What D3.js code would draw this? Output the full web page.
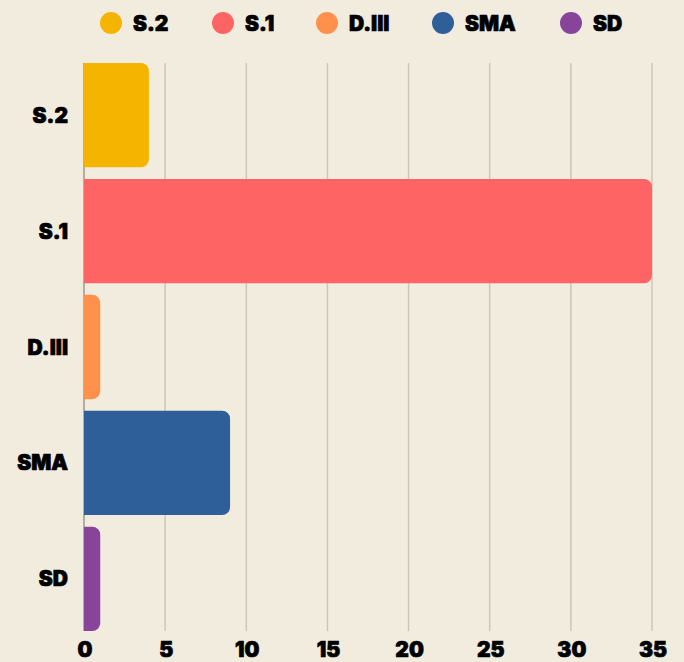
<!DOCTYPE html>
<html>
<head>
<meta charset="utf-8">
<script src="https://cdn.jsdelivr.net/npm/d3@7"></script>
<style>
  html, body { margin: 0; padding: 0; background: #f2ecdf; }
  svg text { font-family: Inter, Lato, "Noto Sans", sans-serif; font-weight: 900; fill: #000;
             stroke: #000; stroke-width: 0.7px; }
</style>
</head>
<body>
<svg id="chart"></svg>
<script>
// Data
const categories = ["S.2", "S.1", "D.III", "SMA", "SD"];
const values = [4, 35, 1, 9, 1];
const colors = ["#f5b400", "#ff6464", "#ff914d", "#2e5f99", "#88449b"];
const xTicks = [0, 5, 10, 15, 20, 25, 30, 35];

const W = 684, H = 662;
const margin = { top: 63, right: 32, bottom: 31, left: 84 };
const width = W - margin.left - margin.right;
const height = H - margin.top - margin.bottom;

const svg = d3.select("#chart")
    .attr("width", W)
    .attr("height", H);

const g = svg.append("g")
    .attr("transform", "translate(" + margin.left + "," + margin.top + ")");

const x = d3.scaleLinear().domain([0, 35]).range([0, width]);
const y = d3.scaleBand()
    .domain(categories)
    .range([0, height])
    .paddingInner(0.1)
    .paddingOuter(0);

// Grid lines
g.selectAll(".grid")
    .data(xTicks.slice(1))
    .enter().append("line")
    .attr("x1", d => x(d))
    .attr("x2", d => x(d))
    .attr("y1", 0)
    .attr("y2", height)
    .attr("stroke", "#c9c7bb")
    .attr("stroke-width", 1.5);

// Left axis line
g.append("line")
    .attr("x1", 0).attr("x2", 0)
    .attr("y1", 0).attr("y2", height)
    .attr("stroke", "#9a9890")
    .attr("stroke-width", 1.5);

// Bars: rounded on the right end only
const r = 8;
g.selectAll(".bar")
    .data(categories)
    .enter().append("path")
    .attr("class", "bar")
    .attr("fill", (d, i) => colors[i])
    .attr("d", (d, i) => {
        const x0 = x(0), x1 = x(values[i]);
        const y0 = y(d), y1 = y(d) + y.bandwidth();
        const rr = Math.min(r, (x1 - x0) / 2);
        return `M${x0},${y0}H${x1 - rr}A${rr},${rr} 0 0 1 ${x1},${y0 + rr}` +
               `V${y1 - rr}A${rr},${rr} 0 0 1 ${x1 - rr},${y1}H${x0}Z`;
    });

// Y labels
g.selectAll(".ylabel")
    .data(categories)
    .enter().append("text")
    .attr("x", -16)
    .attr("y", d => y(d) + y.bandwidth() / 2)
    .attr("dy", "0.36em")
    .attr("text-anchor", "end")
    .style("font-size", "21px")
    .text(d => d);

// X tick labels
g.selectAll(".xlabel")
    .data(xTicks)
    .enter().append("text")
    .attr("x", d => x(d) + 1)
    .attr("y", height + 26)
    .attr("text-anchor", "middle")
    .style("font-size", "21px")
    .text(d => d);

// Legend
const legendX = [111, 223, 327, 443, 571];
const legend = svg.selectAll(".legend")
    .data(categories)
    .enter().append("g")
    .attr("transform", (d, i) => "translate(" + legendX[i] + ",23)");

legend.append("circle")
    .attr("r", 11)
    .attr("fill", (d, i) => colors[i]);

legend.append("text")
    .attr("x", 22)
    .attr("dy", "0.36em")
    .style("font-size", "21px")
    .text(d => d);
</script>
</body>
</html>
